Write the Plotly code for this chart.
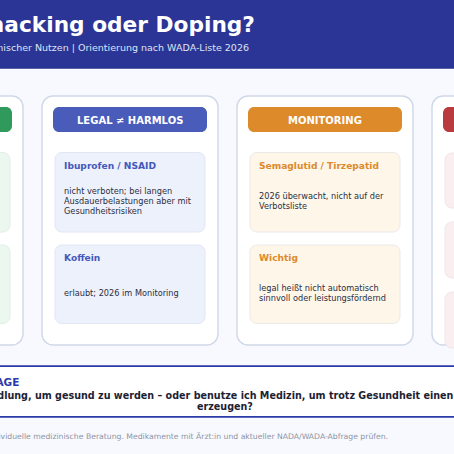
import plotly.graph_objects as go

# ---- texts -----
title_text = "Biohacking oder Doping?"
subtitle_text = "Medizinischer Nutzen | Orientierung nach WADA-Liste 2026"
pill_labels = ["LEGAL ≠ HARMLOS", "MONITORING"]
legal_heads = ["Ibuprofen / NSAID", "Koffein"]
legal_lines = [["nicht verboten; bei langen", "Ausdauerbelastungen aber mit", "Gesundheitsrisiken"],
               ["erlaubt; 2026 im Monitoring"]]
monitor_heads = ["Semaglutid / Tirzepatid", "Wichtig"]
monitor_lines = [["2026 überwacht, nicht auf der", "Verbotsliste"],
                 ["legal heißt nicht automatisch", "sinnvoll oder leistungsfördernd"]]
question_label = "KERNFRAGE"
question_lines = ["Brauche ich eine Behandlung, um gesund zu werden – oder benutze ich Medizin, um trotz Gesundheit einen", "erzeugen?"]
footer_text = "Keine individuelle medizinische Beratung. Medikamente mit Ärzt:in und aktueller NADA/WADA-Abfrage prüfen."

W = H = 454
FONT = "DejaVu Sans"
BG = "#f8f9fe"
NAVY = "#2b3595"
BLUE = "#4a5cba"
ORANGE = "#dd8a2b"
GREEN = "#2f9a5b"
RED = "#b93a3f"
INK = "#2b2f3f"

shapes, notes = [], []


def fx(v):
    return v / W


def fy(v):
    return 1 - v / H


def box(x0, y0, x1, y1, r, fill, line=None, lw=0):
    k = 0.45 * r
    p = (f"M{fx(x0 + r)},{fy(y0)} L{fx(x1 - r)},{fy(y0)} "
         f"C{fx(x1 - k)},{fy(y0)} {fx(x1)},{fy(y0 + k)} {fx(x1)},{fy(y0 + r)} "
         f"L{fx(x1)},{fy(y1 - r)} "
         f"C{fx(x1)},{fy(y1 - k)} {fx(x1 - k)},{fy(y1)} {fx(x1 - r)},{fy(y1)} "
         f"L{fx(x0 + r)},{fy(y1)} "
         f"C{fx(x0 + k)},{fy(y1)} {fx(x0)},{fy(y1 - k)} {fx(x0)},{fy(y1 - r)} "
         f"L{fx(x0)},{fy(y0 + r)} "
         f"C{fx(x0)},{fy(y0 + k)} {fx(x0 + k)},{fy(y0)} {fx(x0 + r)},{fy(y0)} Z")
    shapes.append(dict(type="path", xref="paper", yref="paper", path=p, fillcolor=fill,
                       line=dict(color=line or fill, width=lw), layer="below"))


def label(x, y, s, size, color, bold=False, anchor="left"):
    notes.append(dict(xref="paper", yref="paper", x=fx(x), y=fy(y), text=f"<b>{s}</b>" if bold else s,
                      showarrow=False, xanchor=anchor, yanchor="middle", borderpad=0, borderwidth=0,
                      font=dict(family=FONT, size=size, color=color)))


def rect(x0, y0, x1, y1, fill):
    shapes.append(dict(type="rect", xref="paper", yref="paper", x0=fx(x0), y0=fy(y0), x1=fx(x1), y1=fy(y1),
                       fillcolor=fill, line=dict(width=0), layer="below"))


# header
rect(-5, -10, W + 5, 68, NAVY)
rect(-5, 67.5, W + 5, 68.7, "#27308c")
label(254.5, 25, title_text, 21.7, "#ffffff", True, "right")
label(248.5, 47.5, subtitle_text, 9.5, "#dfe3f5", False, "right")

# cards
CARD = "#cfd8e8"
for x0 in (-153, 42, 237, 432):
    box(x0, 96, x0 + 176, 345, 11, "#ffffff", CARD, 1.4)

# pills
for x0, c in ((-142, GREEN), (53, BLUE), (248, ORANGE), (443, RED)):
    box(x0, 107, x0 + 154, 132, 6, c, None, 0)
label(130, 120, pill_labels[0], 10, "#ffffff", True, "center")
label(325, 120, pill_labels[1], 10, "#ffffff", True, "center")

# inner boxes
for x0, fill, edge in ((-140, "#ebf7ef", "#e2efe8"), (55, "#edf1fb", "#e0e6f4"), (250, "#fef6e9", "#ebe9e8")):
    box(x0, 152.5, x0 + 150, 232, 7, fill, edge, 1)
    box(x0, 245, x0 + 150, 323.5, 7, fill, edge, 1)
for y0, y1 in ((153, 208), (222, 278), (292, 348)):
    box(445, y0, 600, y1, 7, "#fbeef0", "#efe6ea", 1)

# card texts
for heads, lines, x, c in ((legal_heads, legal_lines, 64, "#4458bb"), (monitor_heads, monitor_lines, 259.3, ORANGE)):
    for top, h in zip((165.7, 257.7), heads):
        label(x, top, h, 9.1, c, True)
    for cy, block in zip((200.5, 292.7), lines):
        for j, s in enumerate(block):
            label(x, cy + (j - (len(block) - 1) / 2) * 10, s, 8.2, INK)

# question band
rect(-5, 366, W + 5, 417, "#ffffff")
rect(-5, 365.3, W + 5, 367, "#2b3aa8")
rect(-5, 416, W + 5, 417.7, "#2b3aa8")
label(18.5, 381.5, question_label, 10.5, "#2b3aa8", True, "right")
label(453.7, 395, question_lines[0], 9.6, "#1d2233", True, "right")
label(224.5, 406.5, question_lines[1], 9.6, "#1d2233", True, "center")

# footer
label(388, 436, footer_text, 7.7, "#8e93a3", False, "right")

fig = go.Figure()
fig.update_layout(width=W, height=H, margin=dict(l=0, r=0, t=0, b=0), paper_bgcolor=BG, plot_bgcolor=BG,
                  xaxis=dict(visible=False, range=[0, 1]), yaxis=dict(visible=False, range=[0, 1]),
                  shapes=shapes, annotations=notes, showlegend=False)
fig.write_html("out.html", config=dict(displayModeBar=False),
               post_script="document.body.style.margin='0';document.body.style.overflow='hidden';")
